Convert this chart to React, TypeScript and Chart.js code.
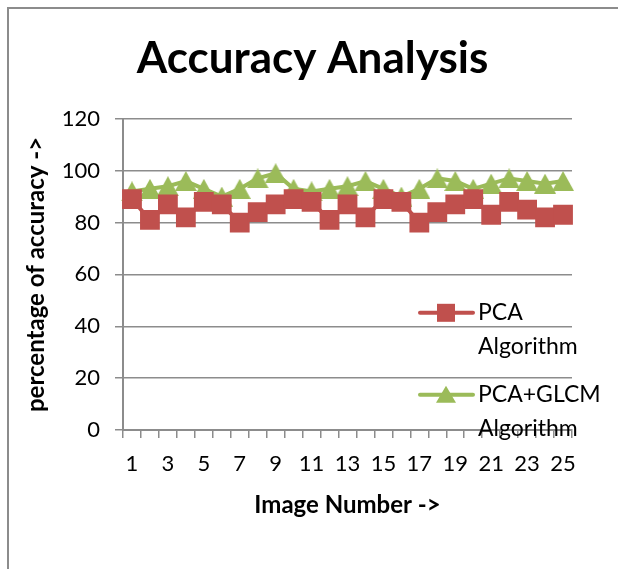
import { useEffect, useRef } from 'react';
import { Chart, registerables } from 'chart.js';

Chart.register(...registerables);

const imageNumbers = ['1', '2', '3', '4', '5', '6', '7', '8', '9', '10', '11', '12', '13', '14', '15', '16', '17', '18', '19', '20', '21', '22', '23', '24', '25'];
const pcaAccuracy = [89, 81, 87, 82, 88, 87, 80, 84, 87, 89, 88, 81, 87, 82, 89, 88, 80, 84, 87, 89, 83, 88, 85, 82, 83];
const pcaGlcmAccuracy = [92, 93, 94, 96, 93, 90, 93, 97, 99, 93, 92, 93, 94, 96, 93, 90, 93, 97, 96, 93, 95, 97, 96, 95, 96];
const yMin = 0;
const yMax = 120;
const yStep = 20;
const chartTitle = 'Accuracy Analysis';
const xAxisTitle = 'Image Number ->';
const yAxisTitle = 'percentage of accuracy ->';
const seriesLabels = ['PCA Algorithm', 'PCA+GLCM Algorithm'];

const RED = '#C0504D';
const GREEN = '#9BBB59';
const GRID = '#8c8c8c';
const FONT = 'Lato';

function makeTriangle(color: string, w: number, h: number) {
  const c = document.createElement('canvas');
  c.width = w;
  c.height = h;
  const ctx = c.getContext('2d')!;
  ctx.fillStyle = color;
  ctx.beginPath();
  ctx.moveTo(w / 2, 0);
  ctx.lineTo(w, h);
  ctx.lineTo(0, h);
  ctx.closePath();
  ctx.fill();
  return c;
}

const framePlugin = {
  id: 'frame',
  beforeDraw(chart: any) {
    const { ctx, width, height } = chart;
    ctx.save();
    ctx.fillStyle = '#ffffff';
    ctx.fillRect(0, 0, width, height);
    ctx.fillStyle = GRID;
    ctx.fillRect(0, 0, width, 2);
    ctx.fillRect(0, 0, 2, height);
    ctx.restore();
  },
};

const legendPlugin = {
  id: 'sideLegend',
  afterDraw(chart: any) {
    const { ctx, chartArea } = chart;
    const left = chartArea.right - 152;
    ctx.save();
    chart.data.datasets.forEach((ds: any, i: number) => {
      const y = chartArea.top + 194 + i * 82;
      ctx.strokeStyle = ds.borderColor;
      ctx.lineWidth = 4;
      ctx.lineCap = 'round';
      ctx.beginPath();
      ctx.moveTo(left, y);
      ctx.lineTo(left + 53, y);
      ctx.stroke();
      const cx = left + 26;
      ctx.fillStyle = ds.backgroundColor;
      if (i === 0) {
        ctx.fillRect(cx - 9, y - 9, 18, 18);
      } else {
        ctx.beginPath();
        ctx.moveTo(cx, y - 9);
        ctx.lineTo(cx + 10, y + 8);
        ctx.lineTo(cx - 10, y + 8);
        ctx.closePath();
        ctx.fill();
      }
      ctx.fillStyle = '#000';
      ctx.font = `23px ${FONT}`;
      ctx.textAlign = 'left';
      ctx.textBaseline = 'middle';
      const label: string = ds.label;
      const sp = label.indexOf(' ');
      const lines = sp > 0 ? [label.slice(0, sp), label.slice(sp + 1)] : [label];
      lines.forEach((t, j) => ctx.fillText(t, left + 58, y + j * 34));
    });
    ctx.restore();
  },
};

export default function App() {
  const ref = useRef<HTMLCanvasElement | null>(null);
  useEffect(() => {
    if (!ref.current) return;
    Chart.defaults.color = '#000';
    Chart.defaults.font.family = FONT;
    const chart = new Chart(ref.current, {
      type: 'line',
      data: {
        labels: imageNumbers,
        datasets: [
          {
            label: seriesLabels[0],
            data: pcaAccuracy,
            borderColor: RED,
            backgroundColor: RED,
            borderWidth: 4,
            pointStyle: 'rect',
            pointRadius: 14,
            pointBorderWidth: 0,
            tension: 0,
          },
          {
            label: seriesLabels[1],
            data: pcaGlcmAccuracy,
            borderColor: GREEN,
            backgroundColor: GREEN,
            borderWidth: 4,
            pointStyle: makeTriangle(GREEN, 22, 20) as any,
            pointRadius: 12,
            pointBorderWidth: 0,
            tension: 0,
          },
        ],
      },
      options: {
        animation: false,
        responsive: false,
        layout: { padding: { left: 0, right: 0, top: 0, bottom: 49 } },
        plugins: {
          legend: { display: false },
          tooltip: { enabled: false },
          title: {
            display: true,
            text: chartTitle,
            font: { size: 44, weight: 'bold', family: FONT },
            color: '#000',
            padding: { top: 25, bottom: 34 },
          },
        },
        scales: {
          x: {
            type: 'category',
            offset: true,
            grid: { offset: true, drawOnChartArea: false, drawTicks: true, tickLength: 8, color: GRID, lineWidth: 1.5 },
            border: { display: true, color: GRID, width: 2 },
            ticks: {
              autoSkip: false,
              maxRotation: 0,
              padding: 13,
              font: { size: 22, family: FONT },
              color: '#000',
              callback: (_v: any, i: number) => (i % 2 === 0 ? imageNumbers[i] : ''),
            },
            title: { display: true, text: xAxisTitle, font: { size: 24, weight: 'bold', family: FONT }, color: '#000', padding: { top: 0, bottom: 0 } },
            afterFit: (s: any) => { s.height = 90; },
          },
          y: {
            min: yMin,
            max: yMax,
            ticks: { stepSize: yStep, padding: 15, font: { size: 22, family: FONT }, color: '#000' },
            grid: { color: GRID, lineWidth: 1.5, drawTicks: true, tickLength: 8 },
            border: { display: true, color: GRID, width: 2 },
            title: { display: true, text: yAxisTitle, font: { size: 24, weight: 'bold', family: FONT }, color: '#000', padding: { top: 15, bottom: 0 } },
            afterFit: (s: any) => { s.width = 116; },
          },
          spacer: {
            type: 'linear',
            position: 'right',
            display: true,
            grid: { display: false, drawTicks: false },
            border: { display: false },
            ticks: { display: false },
            afterFit: (s: any) => { s.width = 46; },
          },
        },
      },
      plugins: [framePlugin, legendPlugin],
    });
    return () => chart.destroy();
  }, []);
  return (
    <div style={{ position: 'fixed', left: 7, top: 7 }}>
      <canvas ref={ref} width={611} height={562} style={{ display: 'block', width: 611, height: 562 }} />
    </div>
  );
}
